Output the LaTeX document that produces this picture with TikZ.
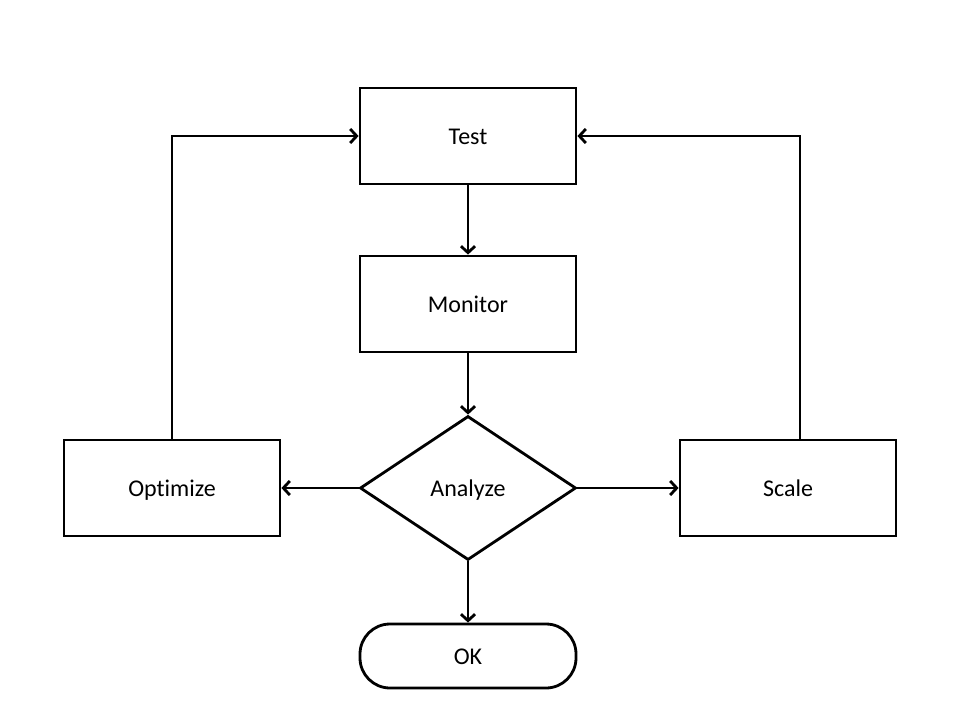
\documentclass[tikz,border=0pt]{standalone}
\usepackage{fontspec}
\setmainfont{Carlito}[Ligatures=NoCommon]
\usetikzlibrary{shapes.geometric,arrows.meta}
\begin{document}
\begin{tikzpicture}[x=1pt,y=-1pt,
  every node/.style={font=\fontsize{24}{28}\selectfont,text height=16pt,text depth=0pt},
  procbox/.style={draw=black,line width=2.8pt,rectangle,minimum width=216pt,minimum height=96pt,inner sep=0pt},
  decbox/.style={draw=black,line width=2.8pt,diamond,minimum width=216pt,minimum height=144pt,inner sep=0pt},
  termbox/.style={draw=black,line width=2.8pt,rectangle,rounded corners=30pt,minimum width=216pt,minimum height=64pt,inner sep=0pt},
  conn/.style={line width=2.8pt,-{Straight Barb[length=6.5pt,width=14pt,line width=2.8pt]}}]
\useasboundingbox (0,0) rectangle (960,720);
\node[procbox] (test) at (468,136) {Test};
\node[procbox] (monitor) at (468,304) {Monitor};
\node[decbox] (analyze) at (468,488) {Analyze};
\node[procbox] (optimize) at (172,488) {Optimize};
\node[procbox] (scale) at (788,488) {Scale};
\node[termbox] (ok) at (468,656) {OK};
\coordinate (scaletop) at (800,440);
\draw[conn] (test) -- (monitor);
\draw[conn] (monitor) -- (analyze);
\draw[conn] (analyze) -- (ok);
\draw[conn] (analyze) -- (optimize);
\draw[conn] (analyze) -- (scale);
\draw[conn] (optimize.north) |- (test.west);
\draw[conn] (scaletop) |- (test.east);
\end{tikzpicture}
\end{document}
